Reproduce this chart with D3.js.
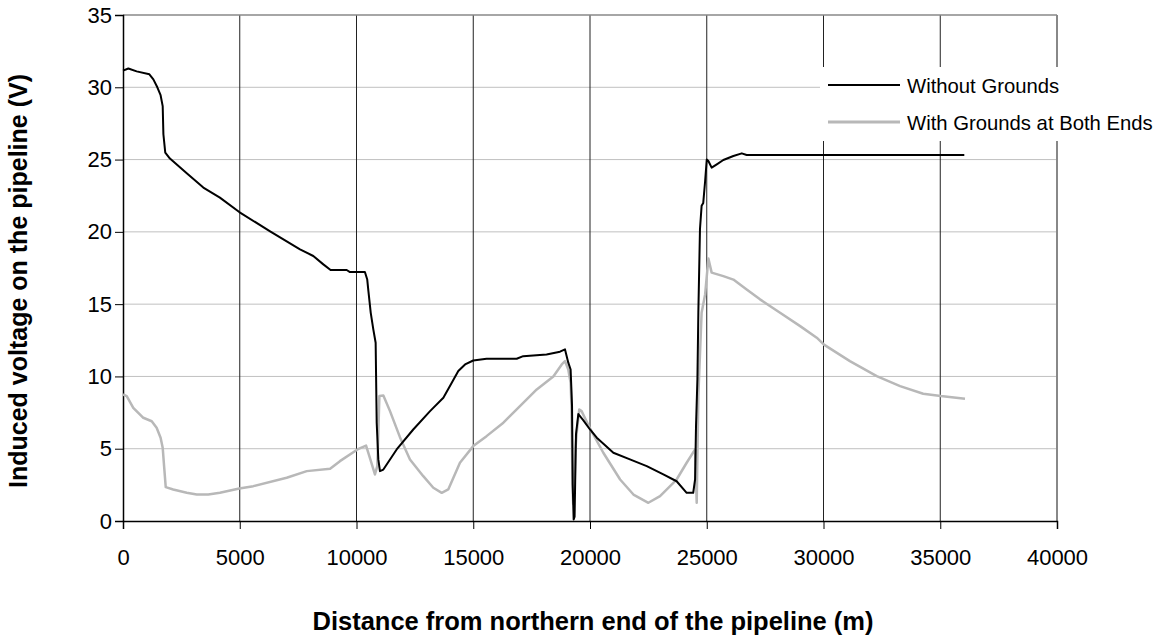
<!DOCTYPE html>
<html>
<head>
<meta charset="utf-8">
<script src="https://cdn.jsdelivr.net/npm/d3@7"></script>
<style>
  body { margin: 0; background: #fff; }
  text { font-family: Arial, 'Liberation Sans', sans-serif; fill: #000; }
</style>
</head>
<body>
<div id="chart-area"></div>
<script>
    var margin = { left: 123, right: 100, top: 15, bottom: 116 };
    var width = 1157 - margin.left - margin.right;
    var height = 637 - margin.top - margin.bottom;

    // distance along pipeline (m) and voltage (V)
    var noGroundX = [0, 230, 585, 1130, 1300, 1470, 1610, 1700, 1730, 1810, 2010, 2730, 3440, 4150, 4980,
      6300, 7580, 8150, 8580, 8890, 9580, 9720, 10360, 10460, 10510, 10610, 10720, 10820, 10865, 10935,
      11005, 11150, 11720, 12430, 13150, 13720, 14080, 14360, 14650, 15000, 15570, 16860, 17140, 18140,
      18715, 18930, 19070, 19170, 19230, 19260, 19300, 19340, 19400, 19500, 19700, 20000, 20290, 21000,
      21710, 22430, 23140, 23710, 24140, 24420, 24500, 24540, 24600, 24640, 24710, 24780, 24850, 24930,
      25000, 25070, 25210, 25430, 25710, 26140, 26500, 26710, 36030];
    var noGroundV = [31.15, 31.3, 31.1, 30.9, 30.55, 30.0, 29.45, 28.7, 26.75, 25.48, 25.07, 24.05, 23.06, 22.37, 21.37,
      20.03, 18.79, 18.33, 17.75, 17.36, 17.36, 17.22, 17.22, 16.7, 15.9, 14.4, 13.25, 12.33, 6.8, 4.26,
      3.45, 3.56, 4.95, 6.33, 7.6, 8.52, 9.56, 10.37, 10.83, 11.1, 11.22, 11.22, 11.4, 11.52,
      11.71, 11.87, 10.95, 10.48, 8.0, 2.5, 0.1, 0.3, 6.0, 7.4, 7.0, 6.33, 5.76, 4.72,
      4.26, 3.8, 3.22, 2.75, 1.95, 1.95, 2.87, 6.56, 9.8, 14.4, 20.2, 21.8, 22.0, 23.5,
      25.0, 24.9, 24.44, 24.67, 24.97, 25.25, 25.43, 25.32, 25.32];

    var bothEndsX = [0, 160, 440, 870, 1230, 1440, 1610, 1700, 1760, 1830, 2150, 2730, 3160, 3650, 4150,
      4980, 5580, 7010, 7870, 8870, 9290, 10040, 10410, 10550, 10790, 10890, 10935, 10980, 11150, 11435,
      11860, 12290, 12860, 13290, 13650, 13930, 14430, 15000, 15570, 16290, 17000, 17720, 18430, 18790,
      18930, 19070, 19170, 19210, 19250, 19280, 19330, 19380, 19430, 19540, 19640, 20000, 20570, 21290,
      21860, 22500, 23000, 23710, 24140, 24500, 24570, 24640, 24780, 24930, 25070, 25210, 25710, 26140,
      26710, 27280, 28140, 29000, 29710, 30020, 31130, 32280, 33280, 34270, 35020, 36060];
    var bothEndsV = [8.75, 8.64, 7.83, 7.14, 6.9, 6.45, 5.76, 5.07, 3.8, 2.34, 2.18, 1.95, 1.83, 1.83, 1.95,
      2.25, 2.41, 2.99, 3.45, 3.61, 4.14, 4.95, 5.22, 4.48, 3.22, 3.79, 6.1, 8.64, 8.68, 7.6,
      5.8, 4.26, 3.1, 2.3, 1.95, 2.18, 4.03, 5.18, 5.87, 6.8, 7.94, 9.1, 10.0, 10.83,
      11.06, 10.48, 9.56, 7.72, 2.5, 1.2, 2.0, 5.0, 6.1, 7.72, 7.6, 6.4, 4.72, 2.87,
      1.83, 1.26, 1.72, 2.87, 4.03, 4.95, 1.26, 8.64, 14.4, 15.67, 18.15, 17.18, 16.94, 16.7,
      16.02, 15.33, 14.4, 13.48, 12.68, 12.2, 11.06, 10.02, 9.33, 8.8, 8.64, 8.46];

    var seriesNames = ['Without Grounds', 'With Grounds at Both Ends'];
    var xTicks = [0, 5000, 10000, 15000, 20000, 25000, 30000, 35000, 40000];
    var yTicks = [0, 5, 10, 15, 20, 25, 30, 35];

    var svg = d3.select('#chart-area')
      .append('svg')
      .attr('width', 1157)
      .attr('height', 637);

    var g = svg.append('g').attr('transform', `translate(${margin.left},${margin.top})`);

    var xScale = d3.scaleLinear().domain([0, 40000]).range([0, width]);
    var yScale = d3.scaleLinear().domain([0, 35]).range([height, 0]);

    // horizontal grid (light)
    g.selectAll('.hgrid').data(yTicks.slice(1, -1)).enter()
      .append('line')
      .attr('x1', 0).attr('x2', width)
      .attr('y1', (d) => yScale(d)).attr('y2', (d) => yScale(d))
      .attr('stroke', '#c0c0c0').attr('stroke-width', 1);

    // vertical grid (dark)
    g.selectAll('.vgrid').data(xTicks.slice(1, -1)).enter()
      .append('line')
      .attr('x1', (d) => xScale(d)).attr('x2', (d) => xScale(d))
      .attr('y1', 0).attr('y2', height)
      .attr('stroke', '#222').attr('stroke-width', 1);

    // plot border top / right
    g.append('line').attr('x1', 0).attr('x2', width).attr('y1', 0).attr('y2', 0)
      .attr('stroke', '#888').attr('stroke-width', 1.5);
    g.append('line').attr('x1', width).attr('x2', width).attr('y1', 0).attr('y2', height)
      .attr('stroke', '#888').attr('stroke-width', 2);

    var xAxisCall = d3.axisBottom(xScale).tickValues(xTicks).tickSize(8).tickPadding(20)
      .tickFormat(d3.format('d'));
    var xAxis = g.append('g')
      .attr('class', 'x axis')
      .attr('transform', `translate(0, ${height})`)
      .call(xAxisCall);

    var yAxisCall = d3.axisLeft(yScale).tickValues(yTicks).tickSize(8).tickPadding(3);
    var yAxis = g.append('g')
      .attr('class', 'y axis')
      .call(yAxisCall);

    [xAxis, yAxis].forEach((ax) => {
      ax.select('.domain').attr('stroke', '#000').attr('stroke-width', 1.5);
      ax.selectAll('.tick line').attr('stroke', '#000').attr('stroke-width', 1);
      ax.selectAll('.tick text').attr('font-size', '22px').attr('font-family', 'Arial, Liberation Sans, sans-serif');
    });
    xAxis.selectAll('.tick text').attr('dy', '0.71em');

    var line = d3.line()
      .x((d) => xScale(d[0]))
      .y((d) => yScale(d[1]));

    var grayData = bothEndsX.map((x, i) => [x, bothEndsV[i]]);
    var blackData = noGroundX.map((x, i) => [x, noGroundV[i]]);

    g.append('path')
      .datum(grayData)
      .attr('fill', 'none')
      .attr('stroke', '#b8b8b8')
      .attr('stroke-width', 2.5)
      .attr('stroke-linejoin', 'round')
      .attr('d', line);

    g.append('path')
      .datum(blackData)
      .attr('fill', 'none')
      .attr('stroke', '#000')
      .attr('stroke-width', 2)
      .attr('stroke-linejoin', 'round')
      .attr('d', line);

    // axis titles
    svg.append('text')
      .attr('transform', 'rotate(-90)')
      .attr('x', -281)
      .attr('y', 27)
      .attr('font-size', '25px')
      .attr('font-weight', 'bold')
      .attr('text-anchor', 'middle')
      .text('Induced voltage on the pipeline (V)');

    svg.append('text')
      .attr('x', 593)
      .attr('y', 630)
      .attr('font-size', '25.5px')
      .attr('font-weight', 'bold')
      .attr('text-anchor', 'middle')
      .text('Distance from northern end of the pipeline (m)');

    // legend
    var legend = svg.append('g').attr('transform', 'translate(820, 67)');
    legend.append('rect').attr('width', 337).attr('height', 74).attr('fill', '#fff');

    var legendColors = ['#000', '#b8b8b8'];
    seriesNames.forEach((name, i) => {
      var row = legend.append('g').attr('transform', `translate(0, ${18 + i * 37})`);
      row.append('line').attr('x1', 8).attr('x2', 80).attr('y1', 0).attr('y2', 0)
        .attr('stroke', legendColors[i]).attr('stroke-width', i === 0 ? 2 : 3);
      row.append('text').attr('x', 87).attr('y', 7.5).attr('font-size', '20.3px').text(name);
    });
</script>
</body>
</html>
